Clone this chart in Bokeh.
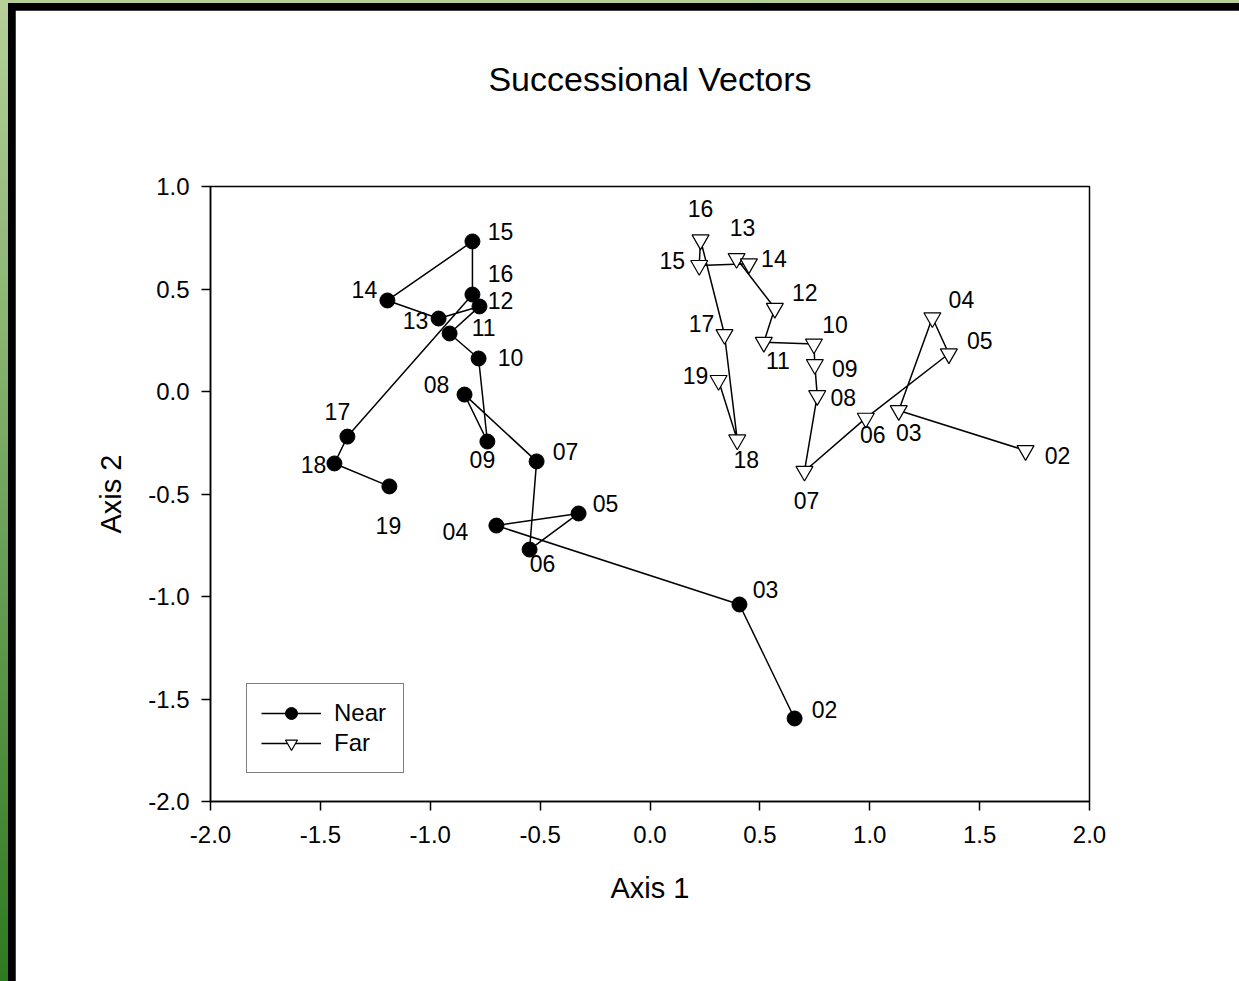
from bokeh.plotting import figure
from bokeh.layouts import column
from bokeh.models import (ColumnDataSource, Legend, LegendItem, NumeralTickFormatter,
                          FixedTicker, Range1d, Title)
from bokeh.core.properties import value
from bokeh.embed import file_html
from bokeh.resources import INLINE

# ---------------- data ----------------
labels = ["02", "03", "04", "05", "06", "07", "08", "09", "10",
          "11", "12", "13", "14", "15", "16", "17", "18", "19"]

near_x = [0.658, 0.407, -0.699, -0.325, -0.548, -0.516, -0.844, -0.740, -0.780,
          -0.912, -0.776, -0.962, -1.195, -0.808, -0.808, -1.377, -1.436, -1.186]
near_y = [-1.595, -1.039, -0.654, -0.595, -0.771, -0.341, -0.015, -0.244, 0.161,
          0.283, 0.415, 0.356, 0.444, 0.732, 0.473, -0.220, -0.351, -0.463]

far_x = [1.709, 1.132, 1.285, 1.360, 0.982, 0.703, 0.761, 0.750, 0.746,
         0.518, 0.568, 0.394, 0.450, 0.224, 0.230, 0.339, 0.397, 0.312]
far_y = [-0.288, -0.093, 0.360, 0.184, -0.130, -0.389, -0.020, 0.132, 0.232,
         0.240, 0.406, 0.649, 0.623, 0.615, 0.740, 0.278, -0.236, 0.054]

x_ticks = [-2.0, -1.5, -1.0, -0.5, 0.0, 0.5, 1.0, 1.5, 2.0]
y_ticks = [-2.0, -1.5, -1.0, -0.5, 0.0, 0.5, 1.0]

# label placement offsets in screen pixels (right / down positive)
near_dx = [30, 26, -41, 27, 13, 29, -28, -5, 32, 34, 21, -23, -23, 28, 28, -10, -21, -1]
near_dy = [-9, -15, 6, -10, 14, -10, -10, 18, -1, -6, -6, 2, -11, -10, -21, -25, 1, 39]
far_dx = [32, 10, 29, 31, 7, 2, 26, 30, 21, 14, 30, 6, 25, -27, 0, -23, 9, -23]
far_dy = [5, 22, -18, -13, 16, 29, 2, 4, -19, 18, -16, -31, -5, -5, -31, -11, 20, -5]

FONT = "Liberation Sans"

p = figure(width=1224, height=971, output_backend="svg", toolbar_location=None,
           x_range=Range1d(-2.0, 2.0), y_range=Range1d(-2.0, 1.0),
           min_border_left=195, min_border_right=150,
           min_border_top=176, min_border_bottom=180,
           background_fill_color="white", border_fill_color="white")

p.grid.visible = False
p.outline_line_color = "black"
p.outline_line_width = 1.5

# real title (outermost), with an empty spacer title between it and the frame
p.title.text = "Successional Vectors"
p.title.align = "center"
p.title.text_font = FONT
p.title.text_font_size = "34px"
p.title.text_font_style = "normal"
p.title.text_color = "black"
p.title.standoff = 10
p.add_layout(Title(text=" ", text_font_size="34px", standoff=44), "above")

# axes
for ax in (p.xaxis[0], p.yaxis[0]):
    ax.axis_line_color = "black"
    ax.axis_line_width = 1.5
    ax.major_tick_line_color = "black"
    ax.major_tick_line_width = 1.5
    ax.major_tick_in = 0
    ax.major_tick_out = 9
    ax.minor_tick_line_color = None
    ax.major_label_text_font = FONT
    ax.major_label_text_font_size = "24px"
    ax.major_label_text_color = "black"
    ax.axis_label_text_font = FONT
    ax.axis_label_text_font_size = "29px"
    ax.axis_label_text_font_style = "normal"
    ax.axis_label_text_color = "black"
    ax.formatter = NumeralTickFormatter(format="0.0")

p.xaxis.ticker = FixedTicker(ticks=x_ticks)
p.yaxis.ticker = FixedTicker(ticks=y_ticks)
p.xaxis.major_label_standoff = 15
p.yaxis.major_label_standoff = 12
p.xaxis.axis_label = "Axis 1"
p.yaxis.axis_label = "Axis 2"
p.xaxis.axis_label_standoff = 26
p.yaxis.axis_label_standoff = 18

near_src = ColumnDataSource(dict(x=near_x, y=near_y, t=labels, dx=near_dx, dy=near_dy))
far_src = ColumnDataSource(dict(x=far_x, y=far_y, t=labels, dx=far_dx, dy=far_dy))

near_line = p.line("x", "y", source=near_src, line_color="black", line_width=1.5)
near_pts = p.scatter("x", "y", source=near_src, marker="circle", size=15,
                     fill_color="black", line_color="black")
far_line = p.line("x", "y", source=far_src, line_color="black", line_width=1.5)
far_pts = p.scatter("x", "y", source=far_src, marker="inverted_triangle", size=17,
                    fill_color="white", line_color="black", line_width=1.2)

for src in (near_src, far_src):
    p.text("x", "y", text="t", source=src, x_offset="dx", y_offset="dy",
           text_font=value(FONT), text_font_size="23px", text_color="black",
           text_align="center", text_baseline="middle")

legend = Legend(items=[LegendItem(label="Near", renderers=[near_line, near_pts]),
                       LegendItem(label="Far", renderers=[far_line, far_pts])],
                location=(36, 28))
legend.border_line_color = "black"
legend.border_line_width = 1.5
legend.padding = 14
legend.spacing = 0
legend.margin = 0
legend.glyph_width = 60
legend.glyph_height = 30
legend.label_height = 30
legend.label_standoff = 13
legend.label_width = 55
legend.label_text_font = FONT
legend.label_text_font_size = "24px"
legend.label_text_color = "black"
legend.background_fill_color = "white"
legend.background_fill_alpha = 1.0
p.add_layout(legend)

# slide frame decoration: black edge over a green gradient strip
inner = column(p, styles={"background-color": "black",
                          "padding-left": "7px", "padding-top": "7px"})
outer = column(inner, styles={"background": "linear-gradient(to bottom, #b6d098, #2e7a22)",
                              "padding-left": "8px", "padding-top": "3px"})

open("out.html", "w").write(file_html(outer, INLINE))
